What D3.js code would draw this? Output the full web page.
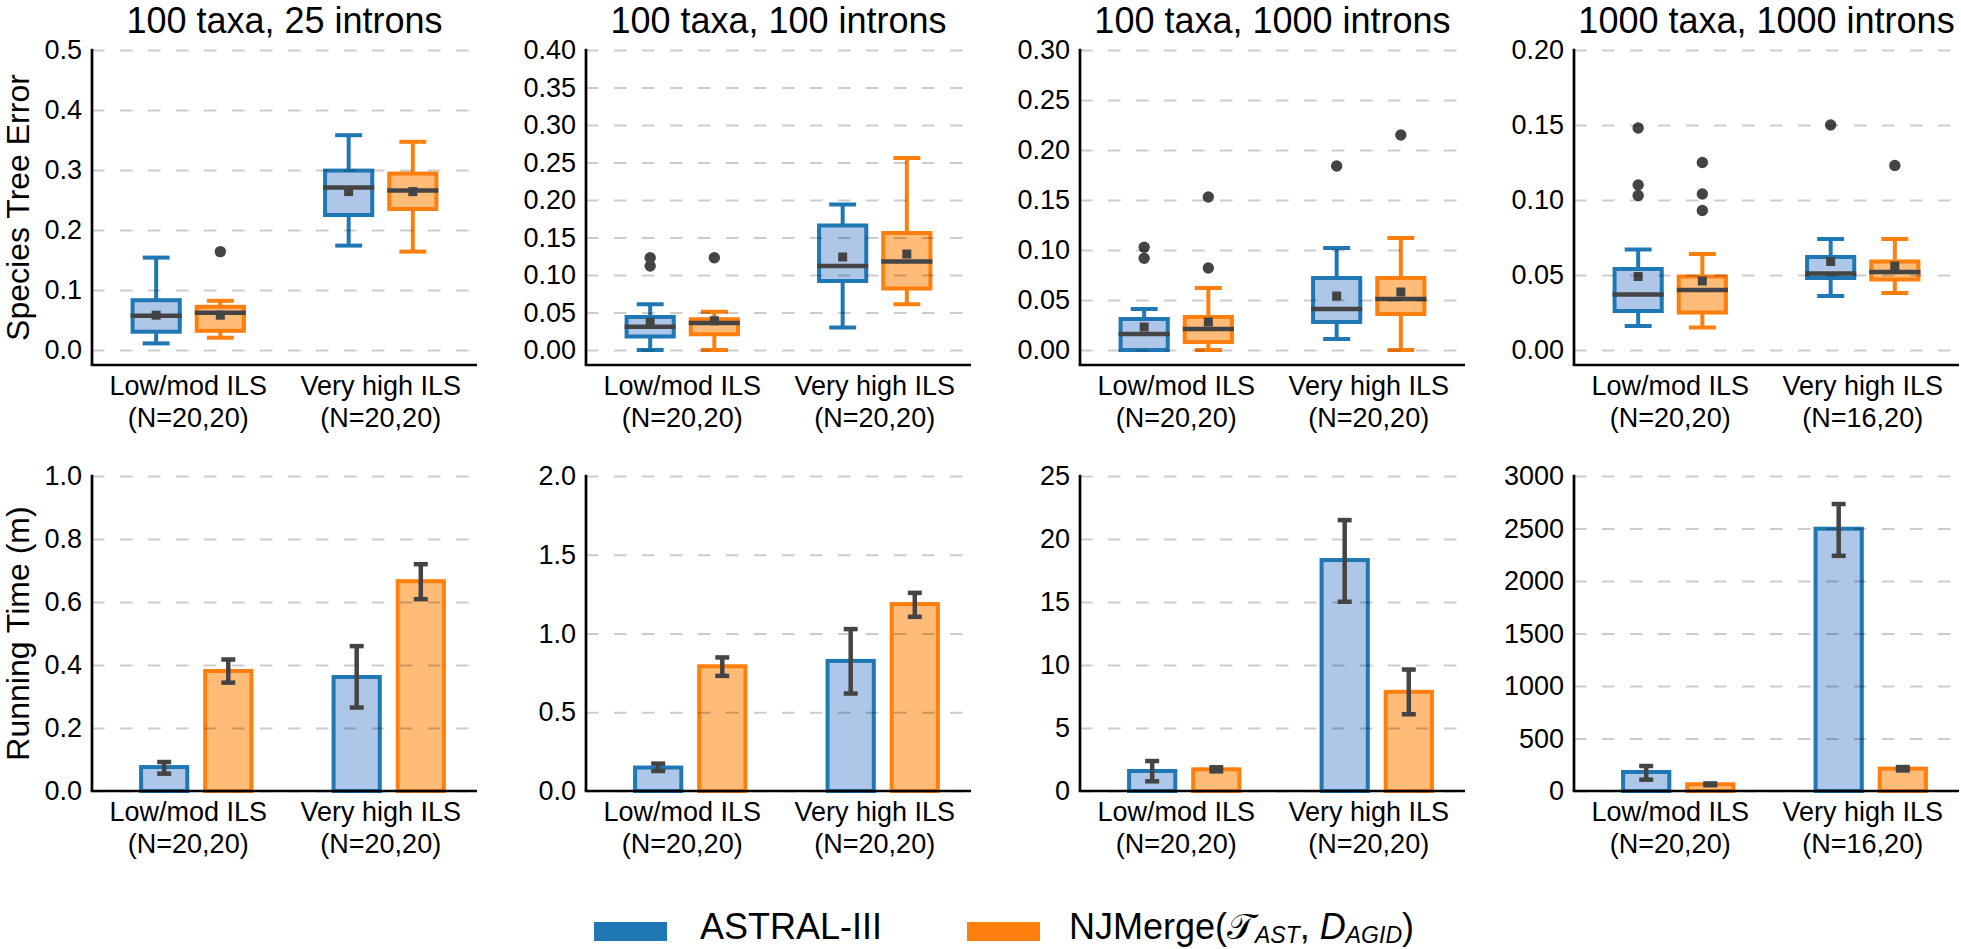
<!DOCTYPE html>
<html><head><meta charset="utf-8">
<script src="https://cdn.jsdelivr.net/npm/d3@7"></script>
<style>
body{margin:0;background:#fff}
text{font-family:"Liberation Sans",Arial,Helvetica,sans-serif;fill:#000}
</style>
</head><body>
<svg id="chart" width="1961" height="949"></svg>
<script>
// ---------------- DATA ----------------
const categories = ["Low/mod ILS", "Very high ILS"];
const seriesNames = ["ASTRAL-III", "NJMerge"];
const panelTitles = ["100 taxa, 25 introns", "100 taxa, 100 introns", "100 taxa, 1000 introns", "1000 taxa, 1000 introns"];
const countLabelsTop = [["(N=20,20)","(N=20,20)"],["(N=20,20)","(N=20,20)"],["(N=20,20)","(N=20,20)"],["(N=20,20)","(N=16,20)"]];
const countLabelsBottom = [["(N=20,20)","(N=20,20)"],["(N=20,20)","(N=20,20)"],["(N=20,20)","(N=20,20)"],["(N=20,20)","(N=16,20)"]];

// Species tree error axes
const errorMax = [0.5, 0.4, 0.3, 0.2];
const errorTicks = [
  [0.0, 0.1, 0.2, 0.3, 0.4, 0.5],
  [0.00, 0.05, 0.10, 0.15, 0.20, 0.25, 0.30, 0.35, 0.40],
  [0.00, 0.05, 0.10, 0.15, 0.20, 0.25, 0.30],
  [0.00, 0.05, 0.10, 0.15, 0.20]
];
const errorFormats = [".1f", ".2f", ".2f", ".2f"];

// box stats per panel, per category: [whiskerLow, q1, median, q3, whiskerHigh, mean]
const boxAstral = [
  [[0.011, 0.0305, 0.057, 0.083, 0.154, 0.058], [0.174, 0.225, 0.271, 0.299, 0.358, 0.264]],
  [[0.000, 0.018, 0.031, 0.044, 0.061, 0.037], [0.030, 0.092, 0.112, 0.166, 0.194, 0.124]],
  [[0.000, 0.000, 0.016, 0.031, 0.041, 0.023], [0.011, 0.028, 0.041, 0.072, 0.102, 0.054]],
  [[0.016, 0.026, 0.037, 0.054, 0.067, 0.049], [0.036, 0.048, 0.051, 0.062, 0.074, 0.059]]
];
const boxNJMerge = [
  [[0.0205, 0.032, 0.062, 0.072, 0.082, 0.058], [0.164, 0.235, 0.266, 0.294, 0.347, 0.264]],
  [[0.000, 0.021, 0.036, 0.041, 0.051, 0.039], [0.061, 0.082, 0.118, 0.156, 0.256, 0.128]],
  [[0.000, 0.008, 0.021, 0.033, 0.062, 0.028], [0.000, 0.036, 0.051, 0.072, 0.112, 0.058]],
  [[0.015, 0.025, 0.040, 0.049, 0.064, 0.046], [0.038, 0.047, 0.052, 0.059, 0.074, 0.056]]
];
const outliersAstral = [
  [[], []],
  [[0.123, 0.112], []],
  [[0.1027, 0.0917], [0.184]],
  [[0.148, 0.110, 0.103], [0.150]]
];
const outliersNJMerge = [
  [[0.164], []],
  [[0.123], []],
  [[0.153, 0.082], [0.215]],
  [[0.125, 0.104, 0.093], [0.123]]
];

// Running time axes
const timeMax = [1.0, 2.0, 25, 3000];
const timeTicks = [
  [0.0, 0.2, 0.4, 0.6, 0.8, 1.0],
  [0.0, 0.5, 1.0, 1.5, 2.0],
  [0, 5, 10, 15, 20, 25],
  [0, 500, 1000, 1500, 2000, 2500, 3000]
];
const timeFormats = [".1f", ".1f", "d", "d"];

// mean running time and error bar extents, per panel, per category
const timeAstral   = [[0.076, 0.362], [0.149, 0.826], [1.59, 18.33], [181, 2498]];
const timeAstralLo = [[0.055, 0.265], [0.127, 0.619], [0.77, 15.02], [108, 2240]];
const timeAstralHi = [[0.092, 0.460], [0.174, 1.028], [2.38, 21.5], [238, 2733]];
const timeNJ       = [[0.381, 0.666], [0.792, 1.187], [1.72, 7.87], [64, 213]];
const timeNJLo     = [[0.344, 0.609], [0.731, 1.106], [1.56, 6.09], [55, 196]];
const timeNJHi     = [[0.4175, 0.720], [0.848, 1.258], [1.88, 9.64], [72, 228]];

// ---------------- LAYOUT / STYLE ----------------
const svg = d3.select("#chart");
const panelLeft = [92, 586, 1080, 1574];
const panelWidth = 385;
const edge = ["#1f77b4", "#ff7f0e"];
const fill = ["#aec7e8", "#ffbb78"];
const dark = "#444444";
const tickFont = 27;

function styleGrid(g) {
  g.select(".domain").remove();
  g.selectAll(".tick line")
    .attr("stroke", "rgba(0,0,0,0.2)")
    .attr("stroke-width", 2)
    .attr("stroke-dasharray", "12.5,15.5");
}
function styleLabels(g) {
  g.select(".domain").remove();
  g.selectAll(".tick line").remove();
  g.selectAll(".tick text").attr("font-size", tickFont).attr("font-family", "Liberation Sans, Arial, sans-serif").attr("fill", "#000");
}

function xLabels(g, x, bw, baseline, counts) {
  categories.forEach((c, i) => {
    const t = g.append("text")
      .attr("x", x(c) + bw / 2).attr("y", baseline)
      .attr("text-anchor", "middle").attr("font-size", tickFont);
    t.append("tspan").attr("x", x(c) + bw / 2).text(c);
    t.append("tspan").attr("x", x(c) + bw / 2).attr("dy", 31.7).text(counts[i]);
  });
}

for (let p = 0; p < 4; p++) {
  const L = panelLeft[p];
  const x = d3.scaleBand().domain(categories).range([L, L + panelWidth]).padding(0);
  const bw = x.bandwidth();

  // ======== TOP ROW: box plots ========
  const gT = svg.append("g");
  const yT = d3.scaleLinear().domain([-0.05 * errorMax[p], errorMax[p]]).range([365, 50]);

  gT.append("text").attr("x", L + panelWidth / 2).attr("y", 33)
    .attr("text-anchor", "middle").attr("font-size", 36).text(panelTitles[p]);

  const boxes = [boxAstral[p], boxNJMerge[p]];
  const outs = [outliersAstral[p], outliersNJMerge[p]];
  const boxW = bw * 0.245, capW = bw * 0.14;
  categories.forEach((c, ci) => {
    [0, 1].forEach(s => {
      const cx = x(c) + bw / 2 + (s === 0 ? -1 : 1) * bw / 6;
      const [wl, q1, med, q3, wh, mean] = boxes[s][ci];
      const mg = gT.append("g");
      mg.append("line").attr("x1", cx).attr("x2", cx).attr("y1", yT(q3)).attr("y2", yT(wh))
        .attr("stroke", edge[s]).attr("stroke-width", 4);
      mg.append("line").attr("x1", cx).attr("x2", cx).attr("y1", yT(q1)).attr("y2", yT(wl))
        .attr("stroke", edge[s]).attr("stroke-width", 4);
      [wl, wh].forEach(v => mg.append("line").attr("x1", cx - capW / 2).attr("x2", cx + capW / 2)
        .attr("y1", yT(v)).attr("y2", yT(v)).attr("stroke", edge[s]).attr("stroke-width", 4));
      mg.append("rect").attr("x", cx - boxW / 2).attr("y", yT(q3))
        .attr("width", boxW).attr("height", yT(q1) - yT(q3))
        .attr("fill", fill[s]).attr("stroke", edge[s]).attr("stroke-width", 4);
      mg.append("line").attr("x1", cx - boxW / 2 - 2).attr("x2", cx + boxW / 2 + 2)
        .attr("y1", yT(med)).attr("y2", yT(med)).attr("stroke", dark).attr("stroke-width", 4.5);
      mg.append("rect").attr("x", cx - 4.5).attr("y", yT(mean) - 4.5).attr("width", 9).attr("height", 9).attr("fill", dark);
      mg.selectAll("circle.o").data(outs[s][ci]).join("circle")
        .attr("cx", cx).attr("cy", d => yT(d)).attr("r", 5.7).attr("fill", dark);
    });
  });

  const gridT = gT.append("g").attr("transform", `translate(${L},0)`)
    .call(d3.axisLeft(yT).tickValues(errorTicks[p]).tickSize(-panelWidth).tickFormat(""));
  styleGrid(gridT);
  const labT = gT.append("g").attr("transform", `translate(${L},0)`)
    .call(d3.axisLeft(yT).tickValues(errorTicks[p]).tickSize(0).tickPadding(10).tickFormat(d3.format(errorFormats[p])));
  styleLabels(labT);

  gT.append("line").attr("x1", L).attr("x2", L).attr("y1", yT.range()[1] - 1.3).attr("y2", yT.range()[0])
    .attr("stroke", "#000").attr("stroke-width", 2.7);
  gT.append("line").attr("x1", L - 1.3).attr("x2", L + panelWidth).attr("y1", yT.range()[0]).attr("y2", yT.range()[0])
    .attr("stroke", "#000").attr("stroke-width", 2.7);
  xLabels(gT, x, bw, 395, countLabelsTop[p]);

  // ======== BOTTOM ROW: bar charts ========
  const gB = svg.append("g");
  const yB = d3.scaleLinear().domain([0, timeMax[p]]).range([791, 476]);
  const means = [timeAstral[p], timeNJ[p]];
  const los = [timeAstralLo[p], timeNJLo[p]];
  const his = [timeAstralHi[p], timeNJHi[p]];
  const barFrac = [0.375, 0.708], barW = bw * 0.24, errCap = 14;
  categories.forEach((c, ci) => {
    [0, 1].forEach(s => {
      const cx = x(c) + bw * barFrac[s];
      gB.append("rect").attr("x", cx - barW / 2).attr("y", yB(means[s][ci]))
        .attr("width", barW).attr("height", yB(0) - yB(means[s][ci]))
        .attr("fill", fill[s]).attr("stroke", edge[s]).attr("stroke-width", 4);
    });
  });
  const gridB = gB.append("g").attr("transform", `translate(${L},0)`)
    .call(d3.axisLeft(yB).tickValues(timeTicks[p]).tickSize(-panelWidth).tickFormat(""));
  styleGrid(gridB);
  categories.forEach((c, ci) => {
    [0, 1].forEach(s => {
      const cx = x(c) + bw * barFrac[s];
      gB.append("line").attr("x1", cx).attr("x2", cx).attr("y1", yB(los[s][ci])).attr("y2", yB(his[s][ci]))
        .attr("stroke", dark).attr("stroke-width", 4.5);
      [los[s][ci], his[s][ci]].forEach(v => gB.append("line")
        .attr("x1", cx - errCap / 2).attr("x2", cx + errCap / 2).attr("y1", yB(v)).attr("y2", yB(v))
        .attr("stroke", dark).attr("stroke-width", 4.5));
    });
  });
  const labB = gB.append("g").attr("transform", `translate(${L},0)`)
    .call(d3.axisLeft(yB).tickValues(timeTicks[p]).tickSize(0).tickPadding(10).tickFormat(d3.format(timeFormats[p])));
  styleLabels(labB);
  gB.append("line").attr("x1", L).attr("x2", L).attr("y1", yB.range()[1] - 1.3).attr("y2", yB.range()[0])
    .attr("stroke", "#000").attr("stroke-width", 2.7);
  gB.append("line").attr("x1", L - 1.3).attr("x2", L + panelWidth).attr("y1", yB.range()[0]).attr("y2", yB.range()[0])
    .attr("stroke", "#000").attr("stroke-width", 2.7);
  xLabels(gB, x, bw, 821, countLabelsBottom[p]);
}

// y-axis titles
svg.append("text").attr("transform", "translate(29,207.5) rotate(-90)")
  .attr("text-anchor", "middle").attr("font-size", 32).text("Species Tree Error");
svg.append("text").attr("transform", "translate(29,633.5) rotate(-90)")
  .attr("text-anchor", "middle").attr("font-size", 32).text("Running Time (m)");

// legend
const legend = svg.append("g");
const legendX = [594, 967], legendTextX = [700, 1069];
[0, 1].forEach(s => {
  legend.append("rect").attr("x", legendX[s]).attr("y", 922).attr("width", 73).attr("height", 19).attr("fill", edge[s]);
});
legend.append("text").attr("x", legendTextX[0]).attr("y", 939).attr("font-size", 36).text(seriesNames[0]);
const lt = legend.append("text").attr("x", legendTextX[1]).attr("y", 939).attr("font-size", 36);
lt.append("tspan").text(seriesNames[1] + "(");
lt.append("tspan").attr("font-family", "DejaVu Sans, DejaVu Serif, sans-serif").text("\u{1D4AF}");
lt.append("tspan").attr("font-style", "italic").attr("font-size", 23).attr("dy", 4).text("AST");
lt.append("tspan").attr("dy", -4).text(", ");
lt.append("tspan").attr("font-style", "italic").text("D");
lt.append("tspan").attr("font-style", "italic").attr("font-size", 23).attr("dy", 4).text("AGID");
lt.append("tspan").attr("dy", -4).text(")");
</script>
</body></html>
